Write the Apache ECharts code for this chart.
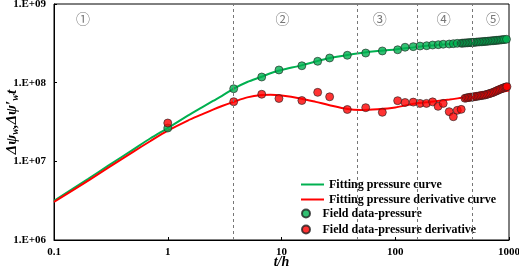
<!DOCTYPE html>
<html><head><meta charset="utf-8">
<script src="https://cdn.jsdelivr.net/npm/echarts@6/dist/echarts.min.js"></script>
<style>html,body{margin:0;padding:0;background:#fff}#c{width:519px;height:268px}</style>
</head><body><div id="c"></div>
<script>
// ---- data ----
const xTickLabels = ['0.1', '1', '10', '100', '1000'];
const yTickLabels = ['1.E+06', '1.E+07', '1.E+08', '1.E+09'];

const fitTime = [0.1,0.2,0.3,0.5,0.7,1,1.5,2,2.5,3,3.8,5,6.7,8,10,15,20,26,38,50,70,100,150,200,300,400,500,700,1000];
const fitPressure = [3.15e6,6.0e6,8.8e6,1.42e7,1.95e7,2.65e7,3.8e7,4.85e7,5.85e7,6.8e7,8.4e7,1.02e8,1.19e8,1.32e8,1.45e8,1.66e8,1.86e8,2.04e8,2.25e8,2.38e8,2.52e8,2.64e8,2.83e8,2.96e8,3.1e8,3.2e8,3.28e8,3.4e8,3.56e8];
const fitDerivative = [3.05e6,5.7e6,8.3e6,1.33e7,1.8e7,2.45e7,3.3e7,3.95e7,4.55e7,5.05e7,5.7e7,6.5e7,6.95e7,7.0e7,6.85e7,6.25e7,5.7e7,5.2e7,4.62e7,4.5e7,4.6e7,4.85e7,5.45e7,5.68e7,6.1e7,6.48e7,6.76e7,7.3e7,7.95e7];

const fieldTimeP = [1,3.8,6.7,9.5,15.1,20.8,26.5,37.9,55,77,105,122,144,165,189,213,239,264,298,324,351,
  380,392,404,417,430,444,458,472,487,503,519,535,552,570,588,607,626,646,666,688,710,732,755,779,804,830,856,884,912,950];
const fieldPressure = [2.65e7,8.38e7,1.18e8,1.45e8,1.64e8,1.87e8,2.06e8,2.23e8,2.38e8,2.53e8,2.62e8,2.82e8,2.87e8,2.92e8,2.95e8,3.01e8,3.04e8,3.08e8,3.10e8,3.13e8,3.16e8,
  3.17e8,3.18e8,3.19e8,3.20e8,3.21e8,3.22e8,3.23e8,3.24e8,3.25e8,3.26e8,3.28e8,3.29e8,3.30e8,3.31e8,3.32e8,3.34e8,3.35e8,3.36e8,3.38e8,3.39e8,3.41e8,3.42e8,3.44e8,3.45e8,3.47e8,3.48e8,3.50e8,3.52e8,3.54e8,3.56e8];

const fieldTimeD = [1,3.8,6.7,9.5,15.1,20.8,26.5,37.9,55,77,105,122,144,165,188,213,238,264,298,324,351,380,
  410,422,435,448,462,476,490,505,520,536,552,569,586,604,622,641,660,680,700,722,744,766,789,813,838,863,889,916,940,960];
const fieldDerivative = [3.07e7,5.73e7,7.12e7,6.29e7,5.93e7,7.53e7,6.61e7,4.56e7,4.81e7,4.20e7,5.90e7,5.6e7,5.66e7,5.45e7,5.45e7,5.7e7,5.0e7,5.45e7,4.28e7,3.69e7,4.45e7,4.58e7,
  6.33e7,6.4e7,6.45e7,6.5e7,6.55e7,6.55e7,6.6e7,6.65e7,6.7e7,6.75e7,6.8e7,6.85e7,6.9e7,6.95e7,7.0e7,7.1e7,7.2e7,7.3e7,7.4e7,7.5e7,7.65e7,7.8e7,7.95e7,8.1e7,8.25e7,8.4e7,8.55e7,8.7e7,8.8e7,8.9e7];

const boundaries = [3.75, 46, 155, 473];
const regionLabels = ['①', '②', '③', '④', '⑤'];
const regionTime = [0.18, 10.2, 73, 267, 723];
const regionLevel = 6.6e8;

const seriesNames = ['Fitting pressure curve', 'Fitting pressure derivative curve', 'Field data-pressure', 'Field data-pressure derivative'];

// ---- chart ----
const GREEN = '#00B050', RED = '#FF0000';
const serif = "'Liberation Serif','Times New Roman',serif";
const zip = (a, b) => a.map((v, i) => [v, b[i]]);
const legendText = {fontFamily: serif, fontWeight: 'bold', fontSize: 12, color: '#000', lineHeight: 13};

const chart = echarts.init(document.getElementById('c'), null, {renderer: 'canvas'});
chart.setOption({
  animation: false,
  backgroundColor: '#fff',
  grid: {left: 54, top: 4, right: 10, bottom: 28, show: true, borderColor: '#000', borderWidth: 1, containLabel: false, outerBoundsMode: 'none'},
  legend: [
    {
      orient: 'vertical', left: 301, top: 178, padding: 0, itemWidth: 23, itemHeight: 2, itemGap: 2, icon: 'rect',
      data: seriesNames.slice(0, 2), textStyle: legendText
    },
    {
      orient: 'vertical', left: 301, top: 207, padding: 0, itemWidth: 23, itemHeight: 8, itemGap: 3, icon: 'circle',
      data: seriesNames.slice(2), textStyle: legendText
    }
  ],
  xAxis: {
    type: 'log', logBase: 10, min: 0.1, max: 1000,
    name: 't/h', nameLocation: 'middle', nameGap: 15, nameMoveOverlap: false,
    nameTextStyle: {fontFamily: serif, fontWeight: 'bold', fontStyle: 'italic', fontSize: 14, color: '#000'},
    axisLine: {lineStyle: {color: '#000', width: 1}},
    axisTick: {inside: true, length: 3, lineStyle: {color: '#000'}},
    minorTick: {show: false},
    splitLine: {show: false},
    axisLabel: {
      margin: 7, fontFamily: serif, fontWeight: 'bold', fontSize: 11, color: '#000',
      formatter: v => xTickLabels[Math.round(Math.log10(v)) + 1]
    }
  },
  yAxis: {
    type: 'log', logBase: 10, min: 1e6, max: 1e9,
    name: 'Δψ{s|w},Δψ′{s|w}t', nameLocation: 'middle', nameGap: 34, nameMoveOverlap: false,
    nameTextStyle: {fontFamily: serif, fontWeight: 'bold', fontStyle: 'italic', fontSize: 15, color: '#000',
      rich: {s: {fontFamily: serif, fontWeight: 'bold', fontStyle: 'italic', fontSize: 10, color: '#000', verticalAlign: 'bottom', padding: [6, 0, 0, 0]}}},
    axisLine: {lineStyle: {color: '#000', width: 1}},
    axisTick: {inside: true, length: 3, lineStyle: {color: '#000'}},
    splitLine: {show: false},
    axisLabel: {
      margin: 8, fontFamily: serif, fontWeight: 'bold', fontSize: 11, color: '#000',
      formatter: v => yTickLabels[Math.round(Math.log10(v)) - 6]
    }
  },
  series: [
    {
      name: seriesNames[0], type: 'line', data: zip(fitTime, fitPressure), smooth: 0.3,
      symbol: 'none', lineStyle: {color: GREEN, width: 2}, itemStyle: {color: GREEN}, z: 2,
      markLine: {
        silent: true, symbol: 'none', label: {show: false},
        lineStyle: {color: '#777', type: [3, 3], width: 1},
        data: boundaries.map(b => ({xAxis: b}))
      }
    },
    {
      name: seriesNames[1], type: 'line', data: zip(fitTime, fitDerivative), smooth: 0.3,
      symbol: 'none', lineStyle: {color: RED, width: 2}, itemStyle: {color: RED}, z: 2
    },
    {
      name: seriesNames[2], type: 'scatter', data: zip(fieldTimeP, fieldPressure), symbolSize: 8,
      itemStyle: {color: GREEN, borderColor: '#222', borderWidth: 0.8}, z: 3
    },
    {
      name: seriesNames[3], type: 'scatter', data: zip(fieldTimeD, fieldDerivative), symbolSize: 8,
      itemStyle: {color: RED, borderColor: '#222', borderWidth: 0.8}, z: 3
    },
    {
      name: 'regions', type: 'scatter', symbolSize: 0, silent: true,
      data: regionLabels.map((l, i) => ({name: l, value: [regionTime[i], regionLevel]})),
      label: {show: true, position: 'inside', formatter: p => p.name, fontFamily: "'Noto Sans CJK SC','DejaVu Sans',sans-serif", fontSize: 14, color: '#555'}
    }
  ]
});
</script></body></html>
